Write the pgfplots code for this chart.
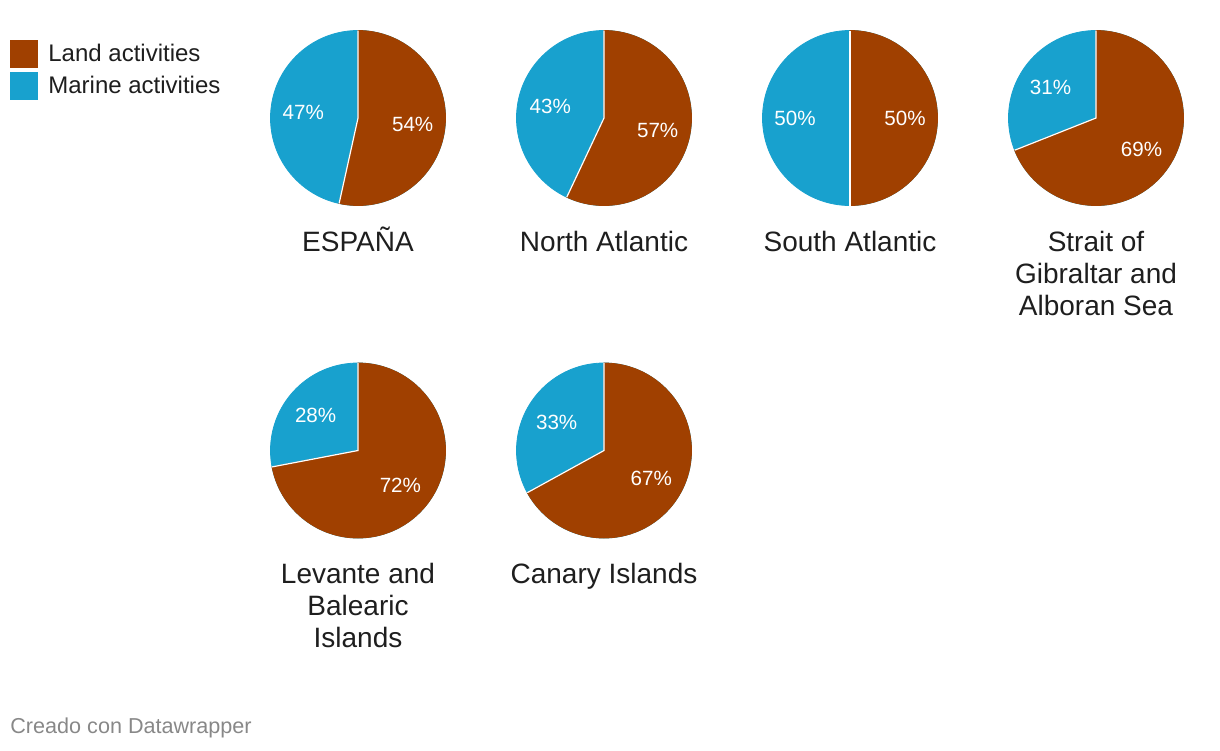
\documentclass[border=0pt]{standalone}
\usepackage{pgfplots}
\pgfplotsset{compat=1.18}
\usepackage{fontspec}
\setmainfont{Liberation Sans}

\definecolor{land}{RGB}{160,64,0}
\definecolor{marine}{RGB}{24,161,206}
\definecolor{credit}{RGB}{136,136,136}
\definecolor{ink}{RGB}{30,30,30}

\pgfdeclareplotmark{blank}{}
\newcommand\R{43.75pt}
\newcommand\titlefont{\fontsize{14pt}{16pt}\selectfont}
\newcommand\pctfont{\fontsize{10.3pt}{12pt}\selectfont}

\begin{document}
\begin{tikzpicture}
\begin{axis}[
  width=610pt, height=375pt, scale only axis,
  xmin=0, xmax=1220, ymin=0, ymax=750, y dir=reverse,
  hide axis, clip=false,
]
\path (rel axis cs:0,0) rectangle (rel axis cs:1,1);

% one pie per row: centre (px), land %, marine %
\addplot[scatter, only marks, mark=blank,
  visualization depends on={value \thisrow{land} \as \landv},
  visualization depends on={value \thisrow{marine} \as \marinev},
  scatter/@pre marker code/.code={%
    \pgfmathsetmacro\fr{\landv/(\landv+\marinev)}%
    \fill[marine] (0,0) circle[radius=\R];
    \fill[land] (0,0) -- (90:\R) arc[start angle=90, delta angle={-360*\fr}, radius=\R] -- cycle;
    \draw[white, line width=0.6pt] (90:\R) -- (0,0) -- ({90-360*\fr}:\R);
    \path ({90-180*\fr}:27.5pt) node[white, font=\pctfont] {\landv\%};
    \path ({90+180*(1-\fr)}:27.5pt) node[white, font=\pctfont] {\marinev\%};
  },
  scatter/@post marker code/.code={},
] table[x=cx, y=cy] {
cx   cy    land marine
358  118   54   47
604  118   57   43
850  118   50   50
1096 118   69   31
358  450.5 72   28
604  450.5 67   33
};

% titles
\begin{scope}[every node/.style={anchor=base, font=\titlefont, text=ink}]
\node at (axis cs:358,251) {ESPAÑA};
\node at (axis cs:604,251) {North Atlantic};
\node at (axis cs:850,251) {South Atlantic};
\node at (axis cs:1096,251) {Strait of};
\node at (axis cs:1096,283) {Gibraltar and};
\node at (axis cs:1096,315) {Alboran Sea};
\node at (axis cs:358,583) {Levante and};
\node at (axis cs:358,615) {Balearic};
\node at (axis cs:358,647) {Islands};
\node at (axis cs:604,583) {Canary Islands};
\end{scope}

% legend
\fill[land] (axis cs:10,40) rectangle (axis cs:38,68);
\fill[marine] (axis cs:10,72) rectangle (axis cs:38,100);
\node[anchor=base west, inner sep=0, font=\fontsize{12pt}{14pt}\selectfont, text=ink] at (axis cs:48,61) {Land activities};
\node[anchor=base west, inner sep=0, font=\fontsize{12pt}{14pt}\selectfont, text=ink] at (axis cs:48,93) {Marine activities};

% credit
\node[anchor=base west, inner sep=0, font=\fontsize{10.8pt}{13pt}\selectfont, text=credit] at (axis cs:10,733) {Creado con Datawrapper};
\end{axis}
\end{tikzpicture}
\end{document}
